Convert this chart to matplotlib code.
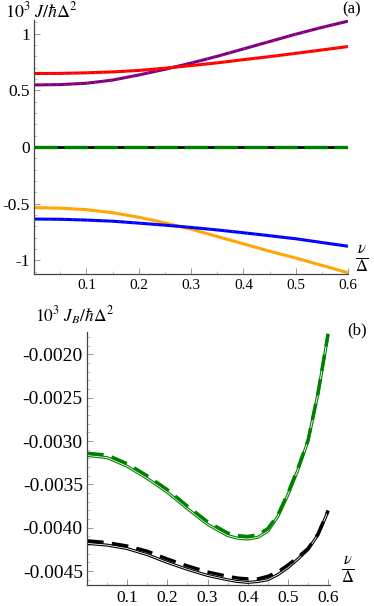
import numpy as np
from matplotlib import pyplot as plt
from matplotlib.ticker import MultipleLocator, FormatStrFormatter

plt.rcParams['font.family'] = 'Liberation Serif'
plt.rcParams['mathtext.fontset'] = 'stix'
plt.rcParams['axes.unicode_minus'] = False

# panel (a)
xa = [0.0, 0.05, 0.1, 0.15, 0.2, 0.25, 0.3, 0.35, 0.4, 0.45, 0.5, 0.55, 0.6]
purple_a = [0.547, 0.55, 0.562, 0.59, 0.635, 0.685, 0.74, 0.80, 0.865, 0.93, 0.995, 1.055, 1.11]
red_a = [0.648, 0.649, 0.654, 0.662, 0.675, 0.695, 0.718, 0.742, 0.77, 0.797, 0.826, 0.856, 0.886]
orange_a = [-0.535, -0.54, -0.553, -0.58, -0.62, -0.67, -0.725, -0.79, -0.855, -0.92, -0.98, -1.045, -1.11]
blue_a = [-0.636, -0.638, -0.645, -0.655, -0.672, -0.69, -0.71, -0.732, -0.757, -0.783, -0.81, -0.843, -0.876]
zero_a = [0.0] * len(xa)

# panel (b)
xb = [0.0, 0.05, 0.1, 0.15, 0.2, 0.25, 0.3, 0.35, 0.375, 0.4, 0.425, 0.45, 0.475, 0.5,
      0.525, 0.55, 0.575, 0.6]
green_dash = [-0.00314, -0.00316, -0.00326, -0.00340, -0.00356, -0.00375, -0.00393, -0.00406,
              -0.00409, -0.00410, -0.00408, -0.00401, -0.00385, -0.00360, -0.00331, -0.00299,
              -0.00244, -0.00176]
green_solid = [-0.003165, -0.00319, -0.00329, -0.00343, -0.00359, -0.00378, -0.00396, -0.00409,
               -0.00412, -0.00413, -0.00411, -0.00404, -0.00387, -0.00362, -0.00333, -0.00300,
               -0.00245, -0.00177]
black_dash = [-0.00415, -0.00417, -0.00421, -0.00427, -0.00436, -0.00444, -0.00451, -0.00456,
              -0.00458, -0.00459, -0.00459, -0.00456, -0.00451, -0.00443, -0.00434, -0.00424,
              -0.00407, -0.00380]
black_solid = [-0.00418, -0.0042, -0.00424, -0.00431, -0.0044, -0.00448, -0.00455, -0.0046,
               -0.00462, -0.00463, -0.00462, -0.0046, -0.00454, -0.00446, -0.00436, -0.00425,
               -0.00408, -0.00381]


def style(ax, fsx, fsy):
    for s in ['top', 'right']:
        ax.spines[s].set_visible(False)
    for s in ['left', 'bottom']:
        ax.spines[s].set_color('#444444')
        ax.spines[s].set_linewidth(0.9)
    ax.tick_params(which='major', direction='in', length=4, width=0.6, colors='#888888',
                   labelcolor='black')
    ax.tick_params(axis='x', labelsize=fsx)
    ax.tick_params(axis='y', labelsize=fsy, pad=3)
    ax.tick_params(which='minor', direction='in', length=2, width=0.5, colors='#aaaaaa')


def double(ax, x, y, c):
    ax.plot(x, y, color=c, lw=2.2, solid_capstyle='butt')
    ax.plot(x, y, color='white', lw=0.6, solid_capstyle='butt')


fig = plt.figure(figsize=(3.74, 6.06), dpi=100)

ax = fig.add_axes([0.091, 0.548, 0.84, 0.419])
ax.plot(xa, zero_a, color='black', lw=2)
ax.plot(xa, zero_a, color='green', lw=2.4, dashes=(7, 2))
for y, c in [(purple_a, 'purple'), (red_a, 'red'), (orange_a, 'orange'), (blue_a, 'blue')]:
    ax.plot(xa, y, color=c, lw=2.2)
    ax.plot(xa, y, color='white', lw=0.5, alpha=0.6, dashes=(1, 10))
ax.set_xlim(0, 0.6)
ax.set_ylim(-1.12, 1.12)
ax.set_xticks([0.1, 0.2, 0.3, 0.4, 0.5, 0.6])
ax.set_xticklabels(['0.1', '0.2', '0.3', '0.4', '0.5', '0.6'])
ax.set_yticks([-1, -0.5, 0, 0.5, 1])
ax.set_yticklabels(['-1', '-0.5', '0', '0.5', '1'])
ax.xaxis.set_minor_locator(MultipleLocator(0.05))
ax.yaxis.set_minor_locator(MultipleLocator(0.1))
style(ax, 11, 12.5)
fig.text(0.013, 0.997, r'$10^3\ J/\hbar\Delta^2$', fontsize=13, va='top')
fig.text(0.965, 0.997, '(a)', fontsize=12, ha='right', va='top')
fig.text(0.968, 0.573, r'$\frac{\nu}{\Delta}$', fontsize=17, ha='center', va='center')

bx = fig.add_axes([0.2326, 0.0347, 0.65, 0.4175])
double(bx, xb, green_solid, 'green')
bx.plot(xb, green_dash, color='green', lw=2.4, dashes=(5, 2.5))
double(bx, xb, black_solid, 'black')
bx.plot(xb, black_dash, color='black', lw=2.4, dashes=(5, 2.5))
bx.set_xlim(0, 0.605)
bx.set_ylim(-0.00466, -0.00174)
bx.set_xticks([0.1, 0.2, 0.3, 0.4, 0.5, 0.6])
bx.set_xticklabels(['0.1', '0.2', '0.3', '0.4', '0.5', '0.6'])
bx.set_yticks([-0.0045, -0.0040, -0.0035, -0.0030, -0.0025, -0.0020])
bx.yaxis.set_major_formatter(FormatStrFormatter('%.4f'))
bx.xaxis.set_minor_locator(MultipleLocator(0.05))
bx.yaxis.set_minor_locator(MultipleLocator(0.0001))
style(bx, 12.5, 14)
fig.text(0.093, 0.497, r'$10^3\ J_B/\hbar\Delta^2$', fontsize=12.5, va='top')
fig.text(0.955, 0.455, '(b)', fontsize=12, ha='center', va='center')
fig.text(0.93, 0.061, r'$\frac{\nu}{\Delta}$', fontsize=17, ha='center', va='center')

plt.savefig('out.png', dpi=100)
